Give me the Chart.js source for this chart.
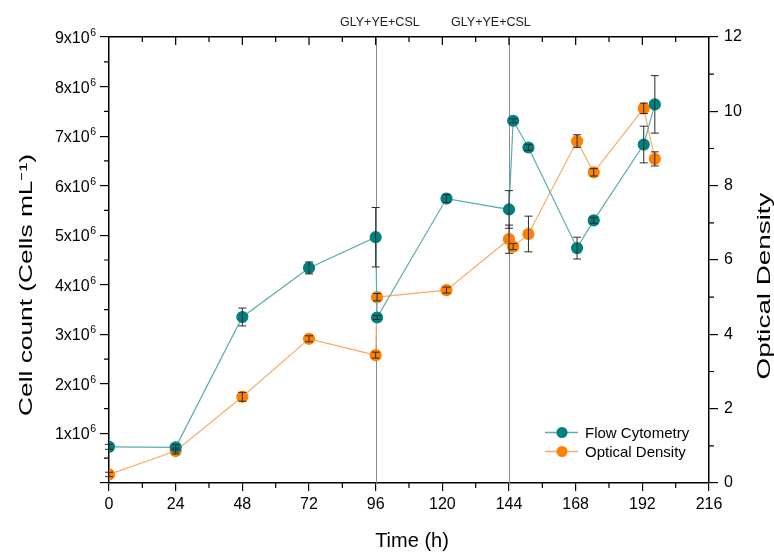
<!DOCTYPE html>
<html>
<head>
<meta charset="utf-8">
<script src="https://cdn.jsdelivr.net/npm/chart.js@4.4.0/dist/chart.umd.min.js"></script>
<style>
  body { margin: 0; background: #fff; }
</style>
</head>
<body>
<canvas id="myChart" width="774" height="554"></canvas>
<script>
// flow cytometry (cells/mL)
var fcTime = [0, 24, 48, 72, 96, 96.5, 121.5, 144, 145.5, 151, 168.5, 174.5, 192.5, 196.5];
var fcCells = [0.73e6, 0.72e6, 3.35e6, 4.34e6, 4.96e6, 3.34e6, 5.74e6, 5.52e6, 7.31e6, 6.77e6, 4.74e6, 5.30e6, 6.83e6, 7.64e6];
var fcErr = [0.05e6, 0.05e6, 0.18e6, 0.12e6, 0.6e6, 0.04e6, 0.08e6, 0.38e6, 0.04e6, 0.06e6, 0.22e6, 0.06e6, 0.37e6, 0.58e6];

// optical density
var odTime = [0, 24, 48, 72, 96, 96.5, 121.5, 144, 145.5, 151, 168.5, 174.5, 192.5, 196.5];
var odValue = [0.23, 0.86, 2.32, 3.88, 3.44, 5.0, 5.19, 6.56, 6.36, 6.7, 9.2, 8.36, 10.08, 8.72];
var odErr = [0.06, 0.08, 0.12, 0.08, 0.08, 0.1, 0.08, 0.38, 0.08, 0.48, 0.17, 0.1, 0.14, 0.19];

var feedTimes = [96, 144];
var feedLabel = 'GLY+YE+CSL';

var FONT = '"Liberation Sans", Arial, sans-serif';
var TEAL = '#00807e';
var ORANGE = '#ff8000';

function toPoints(xs, ys) {
	var pts = [];
	for (var i in xs) {
		pts.push({x: xs[i], y: ys[i]});
	}
	return pts;
}

var extras = {
	id: 'extras',
	beforeDatasetsDraw: function(chart) {
		var ctx = chart.ctx;
		var x = chart.scales.x;
		var a = chart.chartArea;
		ctx.save();
		ctx.strokeStyle = '#8c8c8c';
		ctx.lineWidth = 1;
		feedTimes.forEach(function(t) {
			var px = Math.round(x.getPixelForValue(t)) + 0.5;
			ctx.beginPath();
			ctx.moveTo(px, a.top);
			ctx.lineTo(px, a.bottom);
			ctx.stroke();
		});
		ctx.restore();
	},
	afterDatasetsDraw: function(chart) {
		var ctx = chart.ctx;
		var x = chart.scales.x;
		var y = chart.scales.y;
		var y2 = chart.scales.y2;
		var a = chart.chartArea;

		// error bars
		function bars(xs, ys, es, scale) {
			ctx.strokeStyle = '#2b2b2b';
			ctx.lineWidth = 1;
			for (var i in xs) {
				var px = x.getPixelForValue(xs[i]);
				var top = scale.getPixelForValue(ys[i] + es[i]);
				var bot = scale.getPixelForValue(ys[i] - es[i]);
				ctx.beginPath();
				ctx.moveTo(px, top); ctx.lineTo(px, bot);
				ctx.moveTo(px - 4, top); ctx.lineTo(px + 4, top);
				ctx.moveTo(px - 4, bot); ctx.lineTo(px + 4, bot);
				ctx.stroke();
			}
		}
		ctx.save();
		bars(fcTime, fcCells, fcErr, y);
		bars(odTime, odValue, odErr, y2);

		// minor ticks and top ticks
		ctx.strokeStyle = '#000';
		ctx.lineWidth = 1.2;
		ctx.beginPath();
		for (var v = 0.5e6; v < 9e6; v += 1e6) {
			var py = y.getPixelForValue(v);
			ctx.moveTo(a.left, py); ctx.lineTo(a.left - 5, py);
		}
		for (var o = 1; o < 12; o += 2) {
			var py2 = y2.getPixelForValue(o);
			ctx.moveTo(a.right, py2); ctx.lineTo(a.right + 5, py2);
		}
		for (var t = 12; t < 216; t += 24) {
			var px = x.getPixelForValue(t);
			ctx.moveTo(px, a.bottom); ctx.lineTo(px, a.bottom + 5);
		}
		for (var t2 = 12; t2 < 216; t2 += 12) {
			var pxt = x.getPixelForValue(t2);
			ctx.moveTo(pxt, a.top); ctx.lineTo(pxt, a.top + (t2 % 24 === 0 ? 8 : 5));
		}
		ctx.stroke();

		// left tick labels with raised exponent
		ctx.fillStyle = '#000';
		ctx.textBaseline = 'alphabetic';
		y.ticks.forEach(function(tk) {
			if (tk.value === 0) return;
			var py = y.getPixelForValue(tk.value);
			ctx.textAlign = 'right';
			ctx.font = '10.5px ' + FONT;
			ctx.fillText('6', 96, py - 1);
			var ew = ctx.measureText('6').width + 0.5;
			ctx.font = '16px ' + FONT;
			ctx.fillText((tk.value / 1e6) + 'x10', 96 - ew, py + 6);
		});

		// feed labels
		ctx.fillStyle = '#222';
		ctx.font = '12.5px ' + FONT;
		ctx.textAlign = 'center';
		ctx.textBaseline = 'middle';
		ctx.fillText(feedLabel, x.getPixelForValue(97.5), 23);
		ctx.fillText(feedLabel, x.getPixelForValue(137.5), 23);

		// axis titles
		ctx.fillStyle = '#000';
		ctx.font = '20px ' + FONT;
		ctx.fillText('Time (h)', 412, 541);

		function vtitle(text, cx, cy, size, len) {
			ctx.save();
			ctx.font = size + 'px ' + FONT;
			var w = ctx.measureText(text).width;
			ctx.translate(cx, cy);
			ctx.rotate(-Math.PI / 2);
			ctx.scale(len / w, 1);
			ctx.fillText(text, 0, 0);
			ctx.restore();
		}
		vtitle('Cell count (Cells mL\u207B\u00B9)', 27, 285, 17.5, 262);
		vtitle('Optical Density', 765, 286, 18, 187);

		// legend
		var items = [['Flow Cytometry', TEAL, '#5aaeab'], ['Optical Density', ORANGE, '#f7ad6a']];
		ctx.font = '15px ' + FONT;
		ctx.textAlign = 'left';
		items.forEach(function(it, k) {
			var ly = 432.5 + k * 19;
			ctx.strokeStyle = it[2];
			ctx.lineWidth = 1.3;
			ctx.beginPath();
			ctx.moveTo(545, ly); ctx.lineTo(578, ly);
			ctx.stroke();
			ctx.fillStyle = it[1];
			ctx.beginPath();
			ctx.arc(562, ly, 5.5, 0, Math.PI * 2);
			ctx.fill();
			ctx.fillStyle = '#000';
			ctx.fillText(it[0], 585, ly + 1);
		});
		ctx.restore();
	}
};

var ctx = document.getElementById('myChart');

var chart = new Chart(ctx, {
	type: 'scatter',
	data: {
		datasets: [
			{
				label: 'Flow Cytometry',
				data: toPoints(fcTime, fcCells),
				yAxisID: 'y',
				showLine: true,
				borderColor: '#5aaeab',
				borderWidth: 1.2,
				backgroundColor: TEAL,
				pointBackgroundColor: TEAL,
				pointBorderColor: TEAL,
				pointRadius: 5.5,
				order: 1
			},
			{
				label: 'Optical Density',
				data: toPoints(odTime, odValue),
				yAxisID: 'y2',
				showLine: true,
				borderColor: '#f7ad6a',
				borderWidth: 1.2,
				backgroundColor: ORANGE,
				pointBackgroundColor: ORANGE,
				pointBorderColor: ORANGE,
				pointRadius: 5.5,
				order: 2
			}
		]
	},
	options: {
		responsive: false,
		animation: false,
		layout: { padding: 0 },
		plugins: {
			legend: { display: false },
			tooltip: { enabled: false }
		},
		scales: {
			x: {
				type: 'linear',
				position: 'bottom',
				min: 0, max: 216,
				afterFit: function(s) { s.height = 71; },
				ticks: { stepSize: 24, padding: 4, color: '#000', font: { family: FONT, size: 16 } },
				grid: { drawOnChartArea: false, tickLength: 8, color: '#000', lineWidth: 1.2 },
				border: { color: '#000', width: 1.5 }
			},
			x2: {
				type: 'linear',
				position: 'top',
				min: 0, max: 216,
				afterFit: function(s) { s.height = 37; },
				ticks: { display: false },
				grid: { display: false },
				border: { color: '#000', width: 1.5 }
			},
			y: {
				position: 'left',
				min: 0, max: 9e6,
				afterFit: function(s) { s.width = 109; },
				ticks: {
					stepSize: 1e6, padding: 4, color: '#000',
					font: { family: FONT, size: 16 },
					callback: function() { return ''; }
				},
				grid: { drawOnChartArea: false, tickLength: 9, color: '#000', lineWidth: 1.2 },
				border: { color: '#000', width: 1.5 }
			},
			y2: {
				position: 'right',
				min: 0, max: 12,
				afterFit: function(s) { s.width = 65; },
				ticks: { stepSize: 2, padding: 6, color: '#000', font: { family: FONT, size: 16 } },
				grid: { drawOnChartArea: false, tickLength: 9, color: '#000', lineWidth: 1.2 },
				border: { color: '#000', width: 1.5 }
			}
		}
	},
	plugins: [extras]
});
</script>
</body>
</html>
